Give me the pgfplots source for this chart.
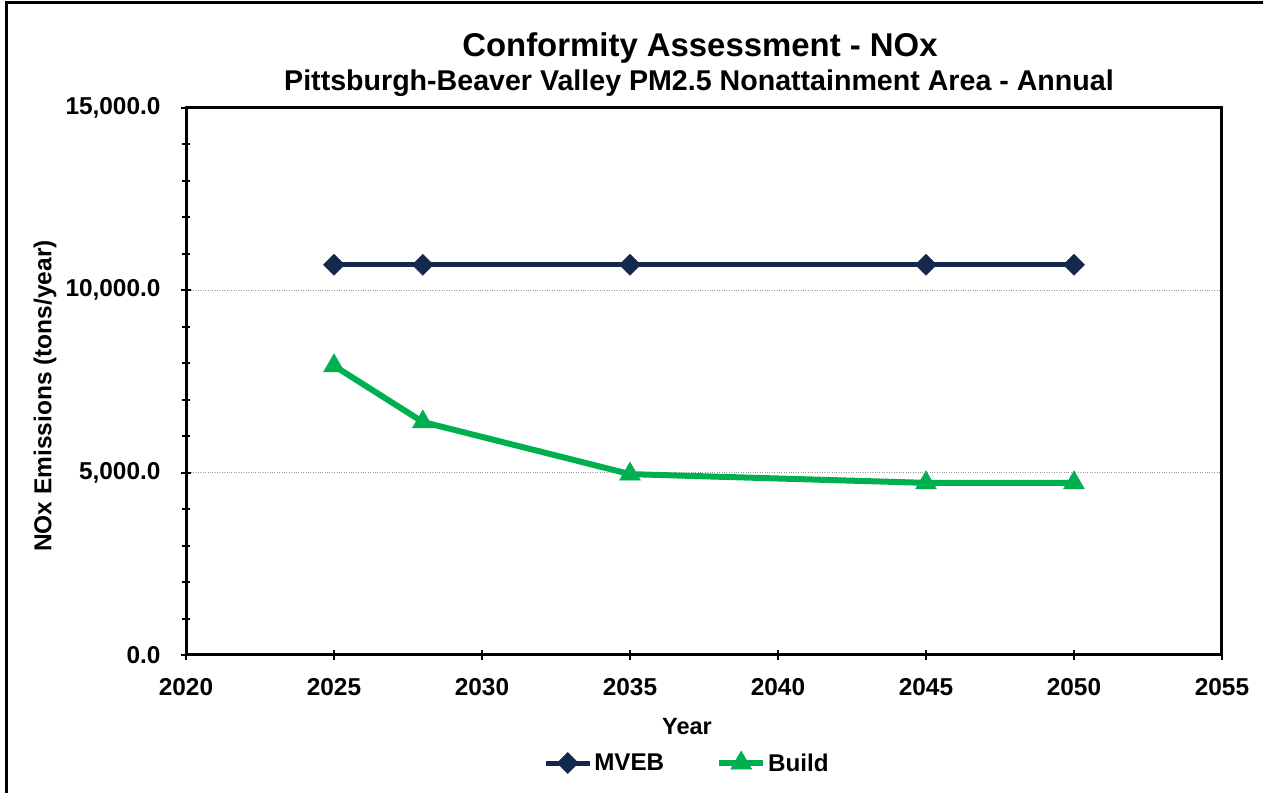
\documentclass[border=0pt]{standalone}
\usepackage{fontspec}
\setmainfont{Liberation Sans}
\usepackage{pgfplots}
\pgfplotsset{compat=1.18}
\definecolor{navy}{HTML}{14284B}
\definecolor{bgreen}{HTML}{00B050}
\begin{document}
\begin{tikzpicture}[x=1bp,y=1bp]
\useasboundingbox (0,0) rectangle (1263,793);
\draw[line width=3bp] (6.5,-5) -- (6.5,790.5) -- (1270,790.5);
\node[anchor=base,font=\fontsize{32.9bp}{38bp}\selectfont\bfseries] at (700,736.5) {Conformity Assessment - NOx};
\node[anchor=base,font=\fontsize{28.6bp}{32bp}\selectfont\bfseries] at (699,702.8) {Pittsburgh-Beaver Valley PM2.5 Nonattainment Area - Annual};
\begin{axis}[
  at={(186bp,138bp)}, anchor=south west,
  scale only axis, width=1036bp, height=547bp,
  xmin=2020, xmax=2055, ymin=0, ymax=15000,
  xtick={2020,2025,...,2055}, ytick={0,5000,10000,15000},
  minor y tick num=4,
  xtick pos=bottom, ytick pos=left,
  tick align=center,
  major tick length=10bp, minor tick length=8bp,
  tick style={black, line width=2bp},
  axis line style={line width=3bp},
  ymajorgrids,
  major grid style={dotted, gray!80, line width=1bp},
  /pgf/number format/assume math mode=true,
  ticklabel style={font=\fontsize{24.4bp}{28bp}\selectfont\bfseries},
  y tick label style={xshift=-17bp, /pgf/number format/.cd, fixed, fixed zerofill, precision=1, 1000 sep={,}},
  x tick label style={yshift=-15bp, /pgf/number format/1000 sep={}},
  scaled y ticks=false,
  xlabel={Year},
  ylabel={NOx Emissions (tons/year)},
  xlabel style={font=\fontsize{23.5bp}{26bp}\selectfont\bfseries, at={(axis description cs:0.4836,-0.1316)}, anchor=center},
  ylabel style={font=\fontsize{24.5bp}{28bp}\selectfont\bfseries, at={(axis description cs:-0.1361,0.4735)}, anchor=center},
  legend style={at={(axis description cs:0.4836,-0.197)}, anchor=center, draw=none, fill=none,
    legend columns=2, font=\fontsize{24.2bp}{28bp}\selectfont\bfseries,
    nodes={inner sep=2bp},
    /tikz/every even column/.append style={column sep=50bp}},
  legend image code/.code={\draw[mark repeat=2,mark phase=2] plot coordinates {(0bp,0bp) (22bp,0bp) (44bp,0bp)};},
]
\addplot[navy, line width=5bp, mark=square*, mark size=7.4bp, mark options={rotate=45, solid, line width=0.5bp}]
  coordinates {(2025,10700) (2028,10700) (2035,10700) (2045,10700) (2050,10700)};
\addlegendentry{MVEB}
\addplot[bgreen, line width=6bp, mark=triangle*, mark size=12bp, mark options={solid, line width=0.5bp}]
  coordinates {(2025,7930) (2028,6390) (2035,4960) (2045,4720) (2050,4720)};
\addlegendentry{Build}
\end{axis}
\end{tikzpicture}
\end{document}
